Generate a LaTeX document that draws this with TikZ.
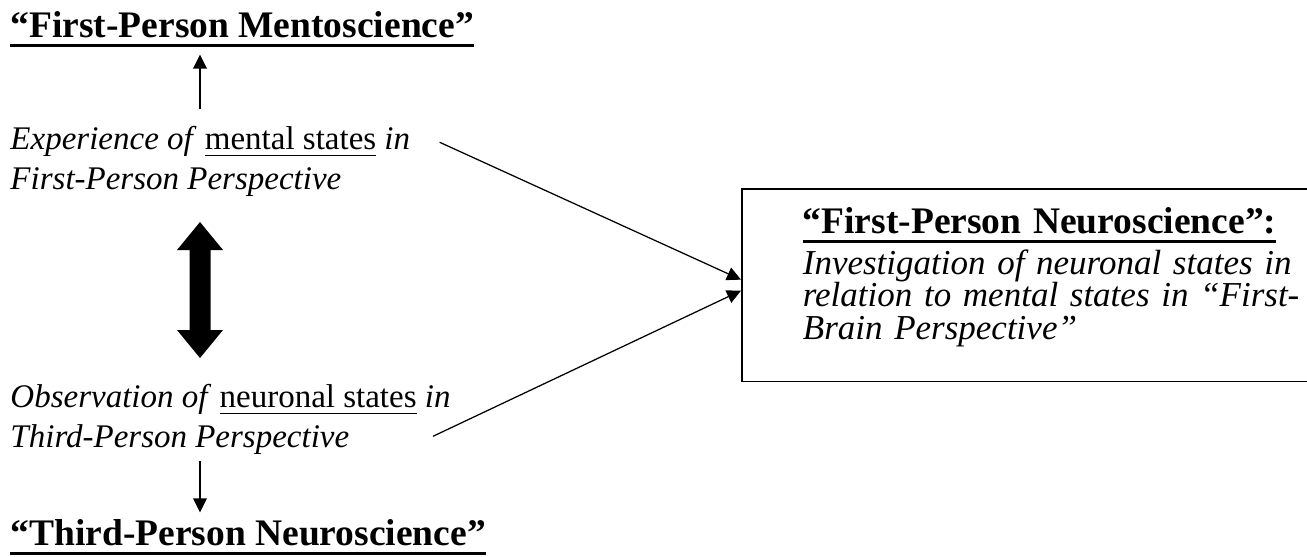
\documentclass[tikz,border=0pt]{standalone}
\usepackage{fontspec}
\setmainfont{Liberation Serif}
\usetikzlibrary{arrows.meta, positioning, calc}

% underline: depth, thickness, text
\newcommand{\lineunder}[3]{{\setbox0\hbox{#3}\rlap{\rule[-#1]{\wd0}{#2}}\box0}}
\newcommand{\headline}[1]{\lineunder{4pt}{1.4pt}{#1}}
\newcommand{\stateul}[1]{\lineunder{2.8pt}{0.5pt}{#1}}
\newcommand{\tightlines}{\lineskiplimit=-20pt\relax}

\begin{document}
\begin{tikzpicture}[x=0.4pt, y=-0.4pt,
  heading/.style={font=\fontsize{15}{17}\selectfont\bfseries, inner sep=0pt, anchor=base west},
  side/.style={font={\fontsize{13.2}{16}\selectfont\tightlines}, align=left, inner sep=0pt, anchor=base west},
  thinarrow/.style={-{Triangle[length=5.6pt, width=5.4pt]}, line width=0.5pt}]
\useasboundingbox (0,0) rectangle (1307,556);

% Left column
\node[heading] (fpm) at (10,37) {\headline{“First-Person Mentoscience”}};
\node[side] (exp) at (10,189) {\textit{Experience of} \stateul{mental states} \textit{in}\\\textit{First-Person Perspective}};
\node[side] (obs) at (10,447) {\textit{Observation of} \stateul{neuronal states} \textit{in}\\\textit{Third-Person Perspective}};
\node[heading] (tpn) at (10,545) {\headline{“Third-Person Neuroscience”}};

% Right box
\node[draw, line width=0.7pt, anchor=north west, align=left, text width=200pt,
  inner xsep=24.4pt, inner ysep=7.4pt, font={\fontsize{14}{13}\selectfont\itshape\tightlines}]
  (fpn) at (741,188) {{\fontsize{15}{17}\selectfont\bfseries\upshape\headline{“First-Person Neuroscience”:}}\\[3.4pt]
  Investigation of neuronal states in\\
  relation to mental states in “First-\\
  Brain Perspective”\rule[-9.4pt]{0pt}{0pt}};

% Arrows
\coordinate (col) at (200,0);
\draw[thinarrow, shorten <=6.4pt, shorten >=2.8pt] (exp.north -| col) -- (fpm.south -| col);
\draw[thinarrow, shorten <=2.4pt, shorten >=2.4pt] (obs.south -| col) -- (tpn.north -| col);
\draw[thinarrow] ([shift={(29,17)}]exp.north east) -- ([yshift=2.2pt]fpn.west);
\draw[thinarrow] ([shift={(-18,53)}]obs.north east) -- ([yshift=-2.2pt]fpn.west);

% Double arrow between the two perspectives
\coordinate (dtop) at (200,222);
\fill (dtop) -- ++(23,28) -- ++(-12.5,0) -- ++(0,80) -- ++(12.5,0) -- ++(-23,28)
  -- ++(-23,-28) -- ++(12.5,0) -- ++(0,-80) -- ++(-12.5,0) -- cycle;
\end{tikzpicture}
\end{document}
